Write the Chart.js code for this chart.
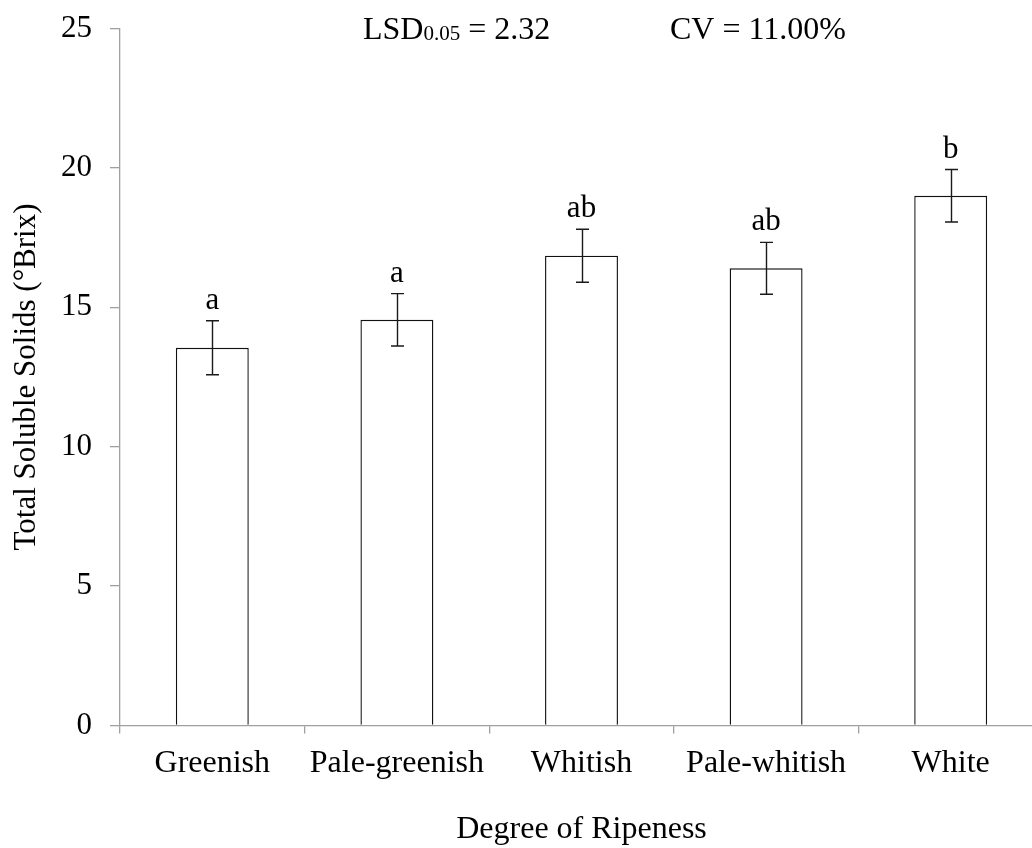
<!DOCTYPE html>
<html>
<head>
<meta charset="utf-8">
<script src="https://cdn.jsdelivr.net/npm/chart.js@4.4.1/dist/chart.umd.min.js"></script>
<style>
  html, body { margin: 0; padding: 0; background: #fff; overflow: hidden; }
  #wrap { width: 1043px; height: 848px; position: relative; }
</style>
</head>
<body>
<div id="wrap"><canvas id="chart"></canvas></div>
<script>
// Total soluble solids by degree of ripeness (mean ± SE)
const categories = ['Greenish', 'Pale-greenish', 'Whitish', 'Pale-whitish', 'White'];
const tssMeans = [13.55, 14.55, 16.85, 16.40, 19.00];
const tssErrors = [0.97, 0.94, 0.95, 0.93, 0.94];
const groupLetters = ['a', 'a', 'ab', 'ab', 'b'];
const yTicks = [0, 5, 10, 15, 20, 25];
const lsdText = { main: 'LSD', sub: '0.05', rest: ' = 2.32' };
const cvText = 'CV = 11.00%';

const SERIF = "'Liberation Serif', 'Times New Roman', serif";
const INK = '#000';
const AXIS = '#a0a0a0';

// Whiskers and significance letters drawn over each bar
const errorBars = {
  id: 'errorBars',
  afterDatasetsDraw(chart) {
    const { ctx } = chart;
    const y = chart.scales.y;
    const meta = chart.getDatasetMeta(0);
    ctx.save();
    ctx.strokeStyle = '#1a1a1a';
    ctx.lineWidth = 1.4;
    ctx.fillStyle = INK;
    ctx.font = `31px ${SERIF}`;
    ctx.textAlign = 'center';
    ctx.textBaseline = 'alphabetic';
    meta.data.forEach((bar, i) => {
      const x = Math.round(bar.x) + 0.5;
      const hi = y.getPixelForValue(tssMeans[i] + tssErrors[i]);
      const lo = y.getPixelForValue(tssMeans[i] - tssErrors[i]);
      const cap = 6.5;
      ctx.beginPath();
      ctx.moveTo(x, hi); ctx.lineTo(x, lo);
      ctx.moveTo(x - cap, hi); ctx.lineTo(x + cap, hi);
      ctx.moveTo(x - cap, lo); ctx.lineTo(x + cap, lo);
      ctx.stroke();
      ctx.fillText(groupLetters[i], bar.x, hi - 12);
    });
    ctx.restore();
  }
};

// Statistics note at the top of the plot
const statsNote = {
  id: 'statsNote',
  afterDraw(chart) {
    const { ctx } = chart;
    ctx.save();
    ctx.fillStyle = INK;
    ctx.textAlign = 'left';
    ctx.textBaseline = 'alphabetic';
    let x = 363;
    const base = 39;
    ctx.font = `32px ${SERIF}`;
    ctx.fillText(lsdText.main, x, base);
    x += ctx.measureText(lsdText.main).width;
    ctx.font = `21px ${SERIF}`;
    ctx.fillText(lsdText.sub, x, base + 1);
    x += ctx.measureText(lsdText.sub).width;
    ctx.font = `32px ${SERIF}`;
    ctx.fillText(lsdText.rest, x, base);
    ctx.fillText(cvText, 670, base);
    ctx.restore();
  }
};

new Chart(document.getElementById('chart'), {
  type: 'bar',
  data: {
    labels: categories,
    datasets: [{
      data: tssMeans,
      backgroundColor: '#ffffff',
      borderColor: '#111',
      borderWidth: 1.4,
      barPercentage: 0.395,
      categoryPercentage: 1.0
    }]
  },
  options: {
    responsive: true,
    maintainAspectRatio: false,
    animation: false,
    devicePixelRatio: 1,
    layout: { padding: { top: 28.5, right: 0, bottom: 0, left: 0 } },
    plugins: { legend: { display: false }, tooltip: { enabled: false } },
    scales: {
      x: {
        grid: { drawOnChartArea: false, tickLength: 8, color: AXIS, lineWidth: 1.3 },
        border: { color: AXIS, width: 1.3 },
        ticks: { font: { family: SERIF, size: 32 }, color: INK, padding: 11, maxRotation: 0, autoSkip: false },
        title: {
          display: true, text: 'Degree of Ripeness',
          font: { family: SERIF, size: 32 }, color: INK,
          padding: { top: 0, bottom: -1 }
        },
        afterFit(scale) {
          scale.height = 122.5;
          scale.paddingLeft = 0;
          scale.paddingRight = 0;
        }
      },
      y: {
        min: 0, max: 25,
        afterBuildTicks(scale) { scale.ticks = yTicks.map(v => ({ value: v })); },
        grid: { drawOnChartArea: false, tickLength: 10, color: AXIS, lineWidth: 1.3 },
        border: { color: AXIS, width: 1.3 },
        ticks: { font: { family: SERIF, size: 31 }, color: INK, padding: 18 },
        title: {
          display: true, text: 'Total Soluble Solids (°Brix)',
          font: { family: SERIF, size: 31 }, color: INK,
          padding: { top: 8, bottom: 0 }
        },
        afterFit(scale) {
          scale.width = 120;
          scale.paddingTop = 0;
          scale.paddingBottom = 0;
        }
      }
    }
  },
  plugins: [errorBars, statsNote]
});
</script>
</body>
</html>
